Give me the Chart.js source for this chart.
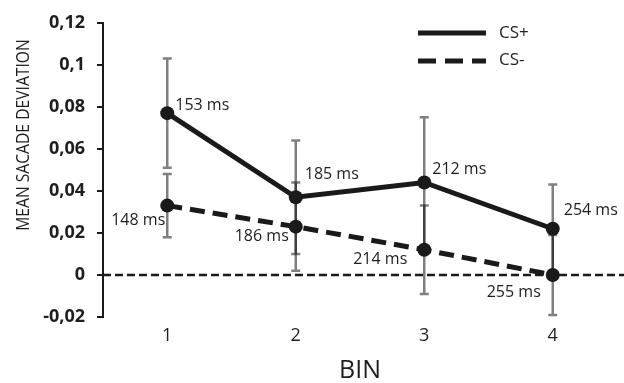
<!DOCTYPE html>
<html>
<head>
<meta charset="utf-8">
<script src="https://cdn.jsdelivr.net/npm/chart.js@4"></script>
<style>
  html, body { margin: 0; padding: 0; background: #fff; }
  #wrap { width: 624px; height: 383px; }
</style>
</head>
<body>
<div id="wrap"><canvas id="chart" width="624" height="383"></canvas></div>
<script>
// ---- data ----
const bins = ['1', '2', '3', '4'];
const csPlus = [0.077, 0.037, 0.044, 0.022];
const csPlusErr = [0.026, 0.027, 0.031, 0.021];
const csPlusLatency = ['153 ms', '185 ms', '212 ms', '254 ms'];
const csMinus = [0.033, 0.023, 0.012, 0.0];
const csMinusErr = [0.015, 0.021, 0.021, 0.019];
const csMinusLatency = ['148 ms', '186 ms', '214 ms', '255 ms'];
const yMin = -0.02, yMax = 0.12, yStep = 0.02;

// label offsets from the point, px  [dx, dy]
const plusLabelOffset = [[8, -8], [9, -23], [8, -13], [11, -18]];
const minusLabelOffset = [[-2, 15], [-7, 10], [-17, 10], [-12, 17]];

const INK = '#1a1a1a';
const FONT = "'Open Sans', sans-serif";

const overlay = {
    id: 'overlay',
    beforeDatasetsDraw(chart) {
        const {ctx, chartArea, scales: {x, y}} = chart;
        ctx.save();
        // zero reference line
        const y0 = y.getPixelForValue(0);
        ctx.strokeStyle = INK;
        ctx.lineWidth = 2.5;
        ctx.setLineDash([8, 4]);
        ctx.beginPath();
        ctx.moveTo(chartArea.left, y0);
        ctx.lineTo(chart.width, y0);
        ctx.stroke();
        ctx.setLineDash([]);

        // error bars
        ctx.strokeStyle = 'rgba(0,0,0,0.5)';
        ctx.lineWidth = 2.5;
        [[csPlus, csPlusErr], [csMinus, csMinusErr]].forEach(([vals, errs]) => {
            vals.forEach((v, i) => {
                const px = x.getPixelForValue(i);
                const top = y.getPixelForValue(v + errs[i]);
                const bot = y.getPixelForValue(v - errs[i]);
                ctx.beginPath();
                ctx.moveTo(px, top); ctx.lineTo(px, bot);
                ctx.moveTo(px - 4.5, top); ctx.lineTo(px + 4.5, top);
                ctx.moveTo(px - 4.5, bot); ctx.lineTo(px + 4.5, bot);
                ctx.stroke();
            });
        });
        ctx.restore();
    },
    afterDatasetsDraw(chart) {
        const {ctx, scales: {x, y}} = chart;
        ctx.save();
        ctx.fillStyle = '#1e1e1e';
        ctx.font = '16px ' + FONT;
        ctx.textBaseline = 'middle';

        csPlus.forEach((v, i) => {
            ctx.textAlign = 'left';
            ctx.fillText(csPlusLatency[i],
                x.getPixelForValue(i) + plusLabelOffset[i][0],
                y.getPixelForValue(v) + plusLabelOffset[i][1]);
        });
        csMinus.forEach((v, i) => {
            ctx.textAlign = 'right';
            ctx.fillText(csMinusLatency[i],
                x.getPixelForValue(i) + minusLabelOffset[i][0],
                y.getPixelForValue(v) + minusLabelOffset[i][1]);
        });

        // legend
        ctx.strokeStyle = INK;
        ctx.lineWidth = 5;
        ctx.beginPath();
        ctx.moveTo(418, 33); ctx.lineTo(486, 33);
        ctx.stroke();
        ctx.setLineDash([18, 9]);
        ctx.beginPath();
        ctx.moveTo(418, 61); ctx.lineTo(486, 61);
        ctx.stroke();
        ctx.setLineDash([]);
        ctx.font = '17px ' + FONT;
        ctx.textAlign = 'left';
        ctx.fillText('CS+', 499, 33);
        ctx.fillText('CS-', 499, 60);

        // y axis title (slightly condensed)
        ctx.translate(24, 135);
        ctx.rotate(-Math.PI / 2);
        ctx.scale(0.87, 1);
        ctx.textAlign = 'center';
        ctx.font = '18px ' + FONT;
        ctx.fillText('MEAN SACADE DEVIATION', 0, 0);
        ctx.restore();
    }
};

new Chart(document.getElementById('chart'), {
    type: 'line',
    data: {
        labels: bins,
        datasets: [{
            label: 'CS+',
            data: csPlus,
            borderColor: INK,
            backgroundColor: INK,
            borderWidth: 5,
            pointRadius: 7,
            pointBackgroundColor: INK,
            pointBorderWidth: 0,
            tension: 0
        }, {
            label: 'CS-',
            data: csMinus,
            borderColor: INK,
            backgroundColor: INK,
            borderWidth: 5,
            borderDash: [15, 8],
            pointRadius: 7,
            pointBackgroundColor: INK,
            pointBorderWidth: 0,
            tension: 0
        }]
    },
    options: {
        responsive: false,
        animation: false,
        devicePixelRatio: 1,
        layout: {padding: {top: 16, right: 1, left: 0, bottom: 0}},
        plugins: {legend: {display: false}, tooltip: {enabled: false}},
        scales: {
            x: {
                offset: true,
                grid: {display: false, drawTicks: false},
                border: {display: false},
                ticks: {color: '#1e1e1e', padding: 8, font: {family: FONT, size: 18}},
                title: {display: true, text: 'BIN', color: '#1e1e1e', padding: 0,
                        font: {family: FONT, size: 25, lineHeight: 1}},
                afterFit(scale) { scale.height = 66; }
            },
            y: {
                min: yMin,
                max: yMax,
                grid: {drawOnChartArea: false, drawTicks: true, tickLength: 6, color: INK, lineWidth: 2},
                border: {display: true, color: INK, width: 2},
                ticks: {
                    stepSize: yStep,
                    color: '#1e1e1e',
                    padding: 12,
                    font: {family: FONT, size: 18, weight: 'bold'},
                    callback: v => String(+v.toFixed(2)).replace('.', ',')
                },
                afterFit(scale) { scale.width = 103; }
            }
        }
    },
    plugins: [overlay]
});
</script>
</body>
</html>
